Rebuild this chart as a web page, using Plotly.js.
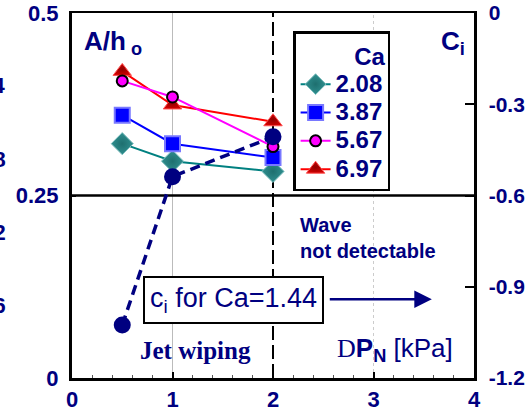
<!DOCTYPE html>
<html>
<head>
<meta charset="utf-8">
<script src="https://cdn.plot.ly/plotly-3.0.1.min.js"></script>
<style>html,body{margin:0;padding:0;background:#fff;}#chart{width:532px;height:415px;}</style>
</head>
<body>
<div id="chart"></div>
<script>
// ---- data ----
const pressureKPa = [0.5, 1, 2];
const caLabels = ['2.08', '3.87', '5.67', '6.97'];
const ampCa208 = [0.321, 0.297, 0.283];
const ampCa387 = [0.360, 0.321, 0.302];
const ampCa567 = [0.407, 0.385, 0.317];
const ampCa697 = [0.420, 0.374, 0.351];
const ciCa144 = [-1.026, -0.538, -0.407];
const leftTickVals = [0, 0.25, 0.5];
const leftTickText = ['0', '0.25', '0.5'];
const rightTickVals = [0, -0.3, -0.6, -0.9, -1.2];
const rightTickText = ['0', '-0.3', '-0.6', '-0.9', '-1.2'];
const xTickVals = [0, 1, 2, 3, 4];
const hiddenScaleVals = [0.24, 0.18, 0.12, 0.06];   // cut-off labels at far left (0..0.3 scale)

const NAVY = '#000080';
const F = 'Arial, Liberation Sans, sans-serif';
const legName = s => '<span style="font-size:24px"><b>' + s + '</b></span>';

const traces = [
  {x: pressureKPa, y: ampCa208, name: legName(caLabels[0]), mode: 'lines+markers', legendrank: 1,
   line: {color: '#008080', width: 2},
   marker: {symbol: 'diamond', size: 17, color: '#2F8F8F', line: {color: '#7FBFBF', width: 1},
            gradient: {type: 'radial', color: '#1E6F6F'}}},
  {x: pressureKPa, y: ampCa387, name: legName(caLabels[1]), mode: 'lines+markers', legendrank: 2,
   line: {color: '#0000FF', width: 2},
   marker: {symbol: 'square', size: 15, color: '#0000FF', line: {color: '#7878FF', width: 2}}},
  {x: pressureKPa, y: ampCa697, name: legName(caLabels[3]), mode: 'lines+markers', legendrank: 4,
   line: {color: '#FF0000', width: 2},
   marker: {symbol: 'triangle-up', size: 16, color: '#D00000', line: {color: '#FF5050', width: 1},
            gradient: {type: 'radial', color: '#900000'}}},
  {x: pressureKPa, y: ampCa567, name: legName(caLabels[2]), mode: 'lines+markers', legendrank: 3,
   line: {color: '#FF00FF', width: 2},
   marker: {symbol: 'circle', size: 11, color: '#FF00FF', line: {color: '#000000', width: 2}}},
  {x: pressureKPa, y: ciCa144, yaxis: 'y2', mode: 'lines+markers', showlegend: false,
   line: {color: NAVY, width: 3.5, dash: '10px,6px'},
   marker: {symbol: 'circle', size: 17, color: NAVY}}
];

const annotations = [
  {xref: 'paper', yref: 'paper', x: 0.025, y: 0.92, xanchor: 'left', yanchor: 'middle', showarrow: false,
   text: '<b>A/h</b><sub><b> o</b></sub>', font: {family: F, size: 26, color: NAVY}},
  {xref: 'paper', yref: 'paper', x: 0.913, y: 0.92, xanchor: 'left', yanchor: 'middle', showarrow: false,
   text: '<b>C</b><sub><b>i</b></sub>', font: {family: F, size: 26, color: NAVY}},
  {xref: 'paper', yref: 'paper', x: 0.562, y: 0.383, xanchor: 'left', yanchor: 'middle', showarrow: false, align: 'left',
   text: '<b>Wave<br>not detectable</b>', font: {family: F, size: 20, color: NAVY}},
  {xref: 'paper', yref: 'paper', x: 0.163, y: 0.075, xanchor: 'left', yanchor: 'middle', showarrow: false,
   text: '<b>Jet wiping</b>', font: {family: 'Liberation Serif, Times New Roman, serif', size: 25, color: NAVY}},
  {xref: 'paper', yref: 'paper', x: 0.655, y: 0.078, xanchor: 'left', yanchor: 'middle', showarrow: false,
   text: '<span style="font-family:Liberation Serif, serif">D</span><b>P<sub>N</sub></b> [kPa]',
   font: {family: F, size: 26, color: NAVY}},
  {xref: 'x', yref: 'y', x: 3.58, y: 0.108, axref: 'x', ayref: 'y', ax: 2.55, ay: 0.108,
   text: '', showarrow: true, arrowhead: 2, arrowsize: 1.4, arrowwidth: 2.5, arrowcolor: NAVY, standoff: 0},
  {xref: 'x', yref: 'y', x: 1.607, y: 0.107, xanchor: 'center', yanchor: 'middle', showarrow: false,
   text: 'c<sub>i</sub> for Ca=1.44', font: {family: F, size: 27, color: NAVY},
   bgcolor: '#FFFFFF', bordercolor: '#000000', borderwidth: 2, borderpad: 5}
];
hiddenScaleVals.forEach(v => annotations.push({
  xref: 'paper', yref: 'paper', x: -0.158, y: v / 0.3, xanchor: 'right', yanchor: 'middle',
  showarrow: false, text: '<b>' + v.toFixed(2) + '</b>', font: {family: F, size: 22, color: NAVY}
}));

const layout = {
  width: 532, height: 415,
  margin: {l: 72, r: 58, t: 13, b: 37, pad: 0},
  paper_bgcolor: '#FFFFFF', plot_bgcolor: '#FFFFFF',
  font: {family: F, color: NAVY},
  showlegend: true,
  legend: {x: 0.55, y: 0.95, xanchor: 'left', yanchor: 'top',
           bgcolor: '#FFFFFF', bordercolor: '#000000', borderwidth: 2.5,
           font: {family: F, size: 19.5, color: NAVY},
           title: {text: '<b>Ca</b>', side: 'top right', font: {family: F, size: 24, color: NAVY}},
           tracegroupgap: 0, itemwidth: 30},
  xaxis: {range: [0, 4], tickvals: xTickVals, ticktext: xTickVals.map(String),
          showgrid: false, zeroline: false, showline: true, linecolor: '#000', linewidth: 2.5, mirror: true,
          ticks: 'inside', ticklen: 6, tickwidth: 2, tickcolor: '#000', ticklabelstandoff: 0,
          minor: {dtick: 0.2, ticks: 'inside', ticklen: 3, tickwidth: 1, tickcolor: '#555'},
          tickfont: {family: F, size: 22, color: NAVY, weight: 'bold'}},
  yaxis: {range: [0, 0.5], tickvals: leftTickVals, ticktext: leftTickText,
          showgrid: false, zeroline: false, showline: true, linecolor: '#000', linewidth: 3, mirror: false,
          ticks: 'inside', ticklen: 4, tickwidth: 2, tickcolor: '#000', ticklabelstandoff: 6,
          tickfont: {family: F, size: 22, color: NAVY, weight: 'bold'}},
  yaxis2: {range: [-1.2, 0], overlaying: 'y', side: 'right', tickvals: rightTickVals, ticktext: rightTickText,
           showgrid: false, zeroline: false, showline: true, linecolor: '#000', linewidth: 2.5,
           ticks: 'inside', ticklen: 9, tickwidth: 2, tickcolor: '#000', ticklabelstandoff: 8,
           tickfont: {family: F, size: 21, color: NAVY, weight: 'bold'}},
  shapes: [
    {type: 'line', xref: 'x', yref: 'paper', x0: 1, x1: 1, y0: 0, y1: 1, layer: 'below', line: {color: '#BBBBBB', width: 1}},
    {type: 'line', xref: 'x', yref: 'paper', x0: 3, x1: 3, y0: 0, y1: 1, layer: 'below', line: {color: '#CCCCCC', width: 1, dash: 'dot'}},
    {type: 'line', xref: 'x', yref: 'paper', x0: 2, x1: 2, y0: 0, y1: 1, layer: 'below', line: {color: '#000000', width: 2, dash: '14px,5px'}},
    {type: 'line', xref: 'paper', yref: 'y', x0: 0, x1: 1, y0: 0.25, y1: 0.25, layer: 'below', line: {color: '#000000', width: 2.5}}
  ],
  annotations: annotations
};

Plotly.newPlot('chart', traces, layout, {displayModeBar: false, staticPlot: true});
</script>
</body>
</html>
